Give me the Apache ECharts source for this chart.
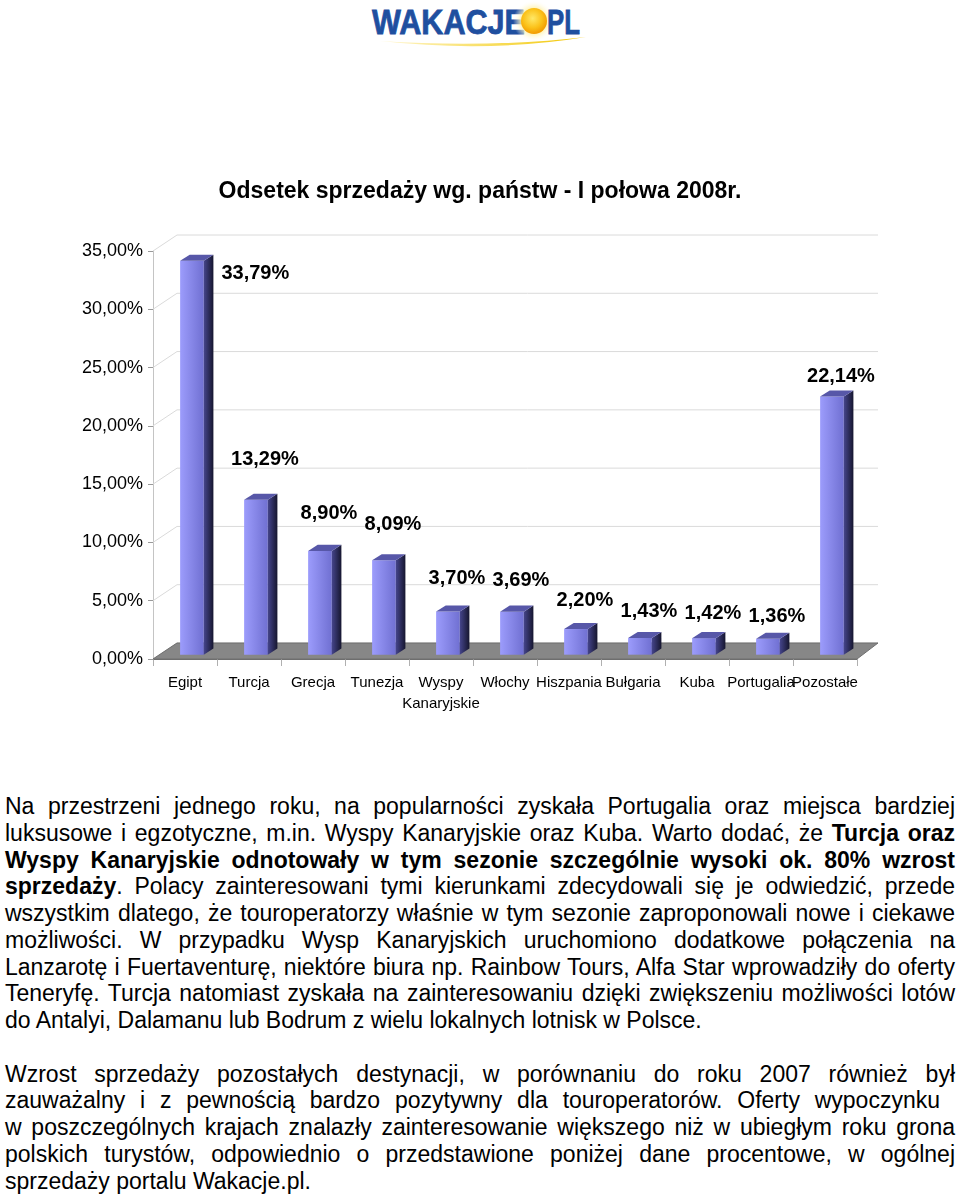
<!DOCTYPE html>
<html>
<head>
<meta charset="utf-8">
<title>Odsetek sprzedaży wg. państw</title>
<script src="https://cdn.jsdelivr.net/npm/echarts/dist/echarts.min.js"></script>
<style>
    body { margin:0; background:#fff; font-family:"Liberation Sans", Arial, sans-serif; }
    #logo { position:absolute; left:360px; top:0px; }
    #chartMain { position:absolute; left:0; top:0; width:960px; height:760px; }
    #opis { position:absolute; left:5px; top:793px; width:950px; font-size:23px; color:#000; }
    #opis .l { height:26.75px; line-height:26.75px; white-space:nowrap; text-align:justify; text-align-last:justify; }
    #opis .k { text-align:left; text-align-last:left; }
    #opis .gap { height:26.75px; }
</style>
</head>
<body>
<svg id="logo" width="240" height="56" viewBox="0 0 240 56">
    <defs>
        <radialGradient id="sun" cx="0.45" cy="0.4" r="0.6">
            <stop offset="0" stop-color="#ffe866"/>
            <stop offset="0.6" stop-color="#fbc21a"/>
            <stop offset="1" stop-color="#f29a00"/>
        </radialGradient>
        <radialGradient id="glow" cx="0.5" cy="0.5" r="0.5">
            <stop offset="0.55" stop-color="#fff0a0"/>
            <stop offset="1" stop-color="#ffffff" stop-opacity="0"/>
        </radialGradient>
        <linearGradient id="swoosh" x1="0" y1="0" x2="1" y2="0">
            <stop offset="0" stop-color="#fff6cc"/>
            <stop offset="0.7" stop-color="#f6d640"/>
            <stop offset="1" stop-color="#f2c400"/>
        </linearGradient>
    </defs>
    <text x="12" y="34" font-family="Liberation Sans" font-weight="bold" font-size="35" fill="#1f4f9f" stroke="#1f4f9f" stroke-width="0.8" textLength="153" lengthAdjust="spacingAndGlyphs">WAKACJE</text>
    <circle cx="174" cy="21" r="21" fill="url(#glow)"/>
    <circle cx="174" cy="21" r="13" fill="url(#sun)"/>
    <text x="187" y="34" font-family="Liberation Sans" font-weight="bold" font-size="35" fill="#1f4f9f" stroke="#1f4f9f" stroke-width="0.8" textLength="33" lengthAdjust="spacingAndGlyphs">PL</text>
    <path d="M 20 41 Q 130 53 226 37 Q 130 48 20 41 Z" fill="url(#swoosh)"/>
</svg>

<div id="chartMain"></div>

<div id="opis">
    <div class="l">Na przestrzeni jednego roku, na popularności zyskała Portugalia oraz miejsca bardziej</div>
    <div class="l">luksusowe i egzotyczne, m.in. Wyspy Kanaryjskie oraz Kuba. Warto dodać, że <b>Turcja oraz</b></div>
    <div class="l"><b>Wyspy Kanaryjskie odnotowały w tym sezonie szczególnie wysoki ok. 80% wzrost</b></div>
    <div class="l"><b>sprzedaży</b>. Polacy zainteresowani tymi kierunkami zdecydowali się je odwiedzić, przede</div>
    <div class="l">wszystkim dlatego, że touroperatorzy właśnie w tym sezonie zaproponowali nowe i ciekawe</div>
    <div class="l">możliwości. W przypadku Wysp Kanaryjskich uruchomiono dodatkowe połączenia na</div>
    <div class="l">Lanzarotę i Fuertaventurę, niektóre biura np. Rainbow Tours, Alfa Star wprowadziły do oferty</div>
    <div class="l">Teneryfę. Turcja natomiast zyskała na zainteresowaniu dzięki zwiększeniu możliwości lotów</div>
    <div class="l k">do Antalyi, Dalamanu lub Bodrum z wielu lokalnych lotnisk w Polsce.</div>
    <div class="gap"></div>
    <div class="l">Wzrost sprzedaży pozostałych destynacji, w porównaniu do roku 2007 również był</div>
    <div class="l" style="width:935px">zauważalny i z pewnością bardzo pozytywny dla touroperatorów. Oferty wypoczynku</div>
    <div class="l">w poszczególnych krajach znalazły zainteresowanie większego niż w ubiegłym roku grona</div>
    <div class="l">polskich turystów, odpowiednio o przedstawione poniżej dane procentowe, w ogólnej</div>
    <div class="l k">sprzedaży portalu Wakacje.pl.</div>
</div>

<script>
// dane z wykresu
var countries = ['Egipt', 'Turcja', 'Grecja', 'Tunezja', 'Wyspy\nKanaryjskie', 'Włochy',
                 'Hiszpania', 'Bułgaria', 'Kuba', 'Portugalia', 'Pozostałe'];
var shares = [33.79, 13.29, 8.90, 8.09, 3.70, 3.69, 2.20, 1.43, 1.42, 1.36, 22.14];
var yTicks = [0, 5, 10, 15, 20, 25, 30, 35];

var FONT = '"Liberation Sans", Arial, sans-serif';
// przesuniecie "glebokosci" wykresu 3D
var DX = 24, DY = -16;

function pct(v){
    return v.toFixed(2).replace('.', ',') + '%';
}

function renderGrid(params, api){
    var cs = params.coordSys;
    var y = api.coord([0, api.value(1)])[1];
    return {
        type: 'polyline',
        shape: { points: [[cs.x, y], [cs.x + DX, y + DY], [cs.x + cs.width + DX - 3, y + DY]] },
        style: { stroke: '#dadada', lineWidth: 1, fill: null }
    };
}

function renderFloor(params, api){
    var cs = params.coordSys;
    var y = api.coord([0, 0])[1];
    var x0 = cs.x, x1 = cs.x + cs.width;
    return {
        type: 'polygon',
        shape: { points: [[x0, y], [x0 + DX, y + DY], [x1 + DX - 3, y + DY], [x1, y]] },
        style: { fill: '#878787', stroke: '#6e6e6e', lineWidth: 1 }
    };
}

function renderBar(params, api){
    var idx = api.value(0), val = api.value(1);
    var top = api.coord([idx, val]);
    var base = api.coord([idx, 0]);
    var bw = api.size([1, 0])[0];
    var fw = bw * 0.37;
    var cx = base[0] + DX * 0.29;
    var x0 = cx - fw / 2, x1 = cx + fw / 2;
    var yB = base[1] + DY * 0.27, yT = top[1] + DY * 0.27;
    var sdx = DX * 0.4, sdy = DY * 0.38;

    // polozenie etykiety
    var lx = cx + 9, ly = yT - (42 - 2.2 * idx), al = 'center';
    if(ly - 12 < params.coordSys.y){
        lx = x1 + sdx + 8;
        ly = yT + 13;
        al = 'left';
    }
    return {
        type: 'group',
        children: [{
            type: 'rect',
            shape: { x: x0, y: yT, width: fw, height: yB - yT },
            style: { fill: new echarts.graphic.LinearGradient(0, 0, 1, 0, [
                { offset: 0, color: '#9c9cfc' }, { offset: 1, color: '#7070d2' }]) }
        }, {
            type: 'polygon',
            shape: { points: [[x1, yT], [x1 + sdx, yT + sdy], [x1 + sdx, yB + sdy], [x1, yB]] },
            style: { fill: new echarts.graphic.LinearGradient(0, 0, 1, 0, [
                { offset: 0, color: '#45458c' }, { offset: 1, color: '#16162f' }]) }
        }, {
            type: 'polygon',
            shape: { points: [[x0, yT], [x1, yT], [x1 + sdx, yT + sdy], [x0 + sdx, yT + sdy]] },
            style: { fill: '#5757a8' }
        }, {
            type: 'text',
            style: {
                text: pct(val), x: lx, y: ly,
                align: al, verticalAlign: 'middle',
                font: 'bold 20px ' + FONT, fill: '#000'
            }
        }]
    };
}

var movieChart = echarts.init(document.getElementById('chartMain'));
movieChart.setOption({
    animation: false,
    title: {
        text: 'Odsetek sprzedaży wg. państw - I połowa 2008r.',
        left: 'center', top: 175,
        textStyle: { fontFamily: FONT, fontSize: 23, fontWeight: 'bold', color: '#000' }
    },
    grid: { left: 153, right: 103, top: 251, bottom: 101 },
    xAxis: {
        type: 'category',
        data: countries,
        axisLine: { lineStyle: { color: '#6e6e6e' } },
        axisTick: { show: true, length: 7, lineStyle: { color: '#b0b0b0' } },
        axisLabel: { interval: 0, hideOverlap: false, margin: 13, fontFamily: FONT, fontSize: 15,
                     color: '#000', lineHeight: 21 }
    },
    yAxis: {
        type: 'value',
        min: yTicks[0], max: yTicks[yTicks.length - 1], interval: yTicks[1] - yTicks[0],
        axisLine: { show: true, lineStyle: { color: '#c4c4c4' } },
        axisTick: { show: true, length: 5, lineStyle: { color: '#999' } },
        splitLine: { show: false },
        axisLabel: { margin: 10, fontFamily: FONT, fontSize: 18, color: '#000',
                     formatter: function(v){ return pct(v); } }
    },
    series: [{
        type: 'custom', z: 1, silent: true,
        renderItem: renderGrid,
        data: yTicks.map(function(v){ return [0, v]; })
    }, {
        type: 'custom', z: 2, silent: true,
        renderItem: renderFloor,
        data: [[0, 0]]
    }, {
        type: 'custom', z: 3,
        renderItem: renderBar,
        encode: { x: 0, y: 1 },
        data: shares.map(function(v, i){ return [i, v]; })
    }]
});
</script>
</body>
</html>
